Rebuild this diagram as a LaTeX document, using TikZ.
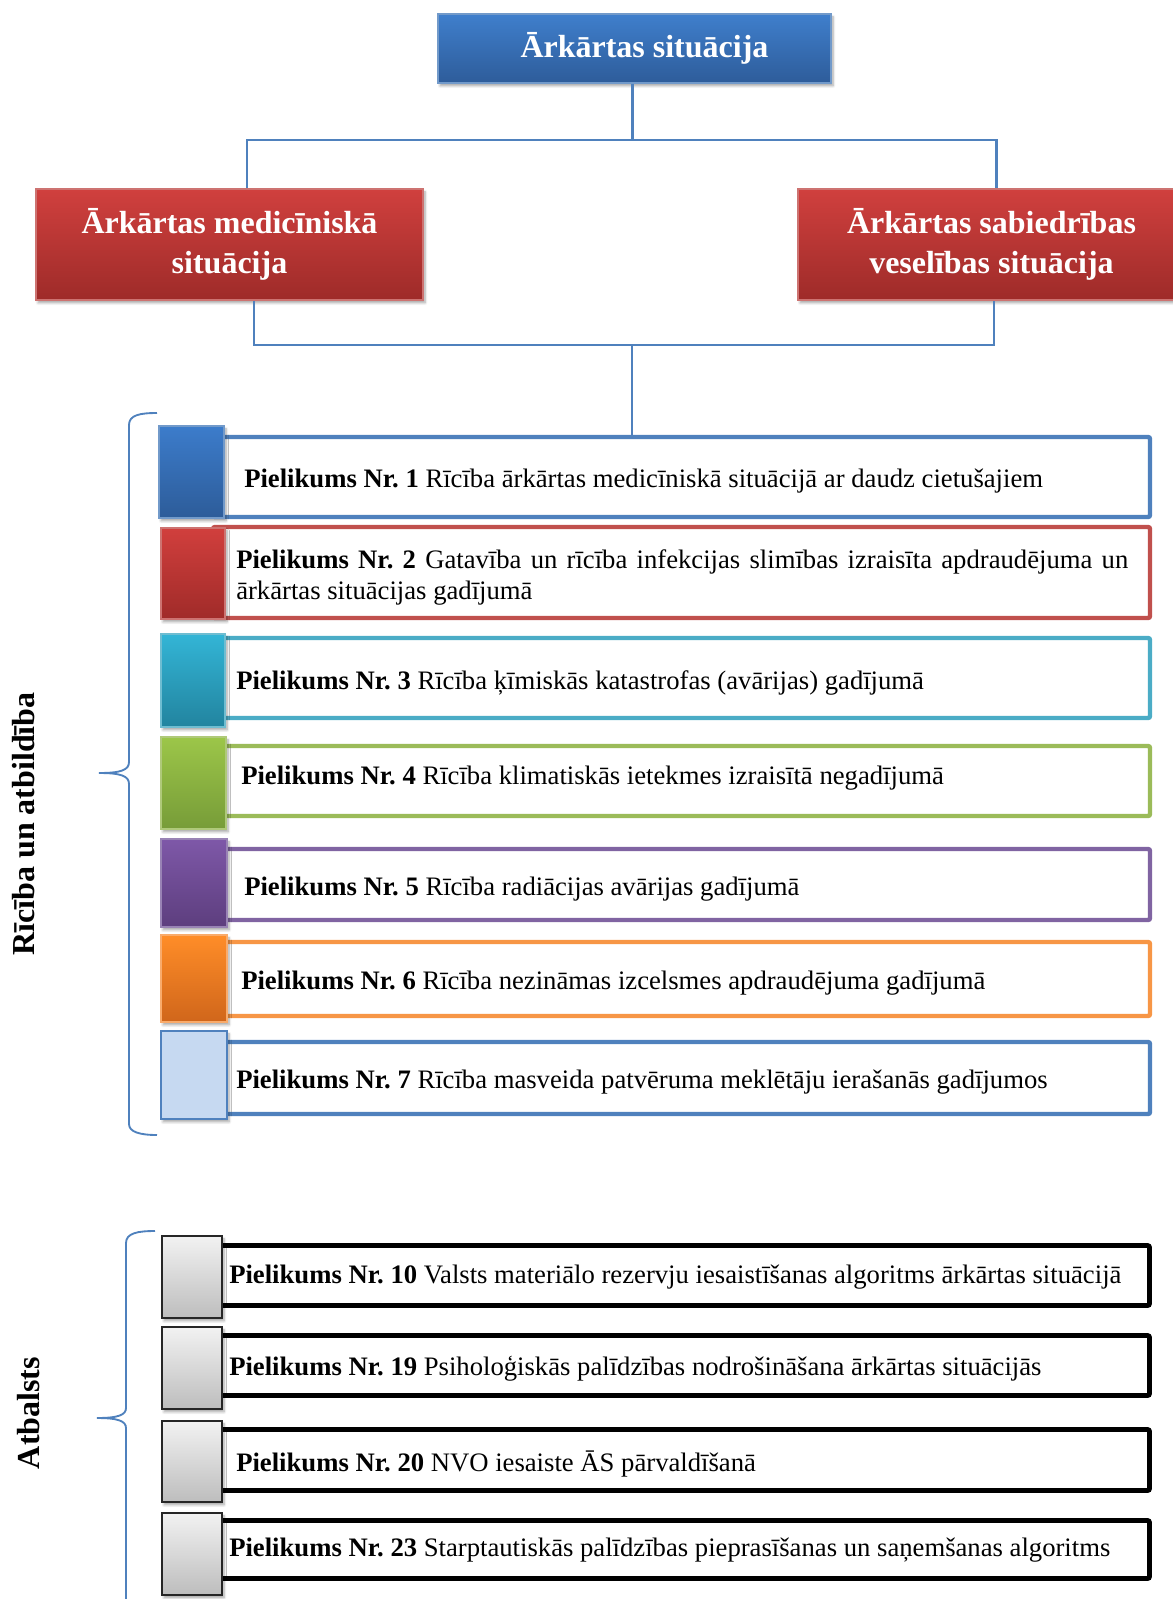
\documentclass[tikz,border=0pt]{standalone}
\usepackage{fontspec}
\setmainfont{Liberation Serif}
\usetikzlibrary{calc,shadows,shadows.blur}
\frenchspacing

\definecolor{lnblue}{HTML}{4F81BD}
\definecolor{hbTop}{HTML}{3F7FCC}
\definecolor{hbBot}{HTML}{2E5C9A}
\definecolor{hrTop}{HTML}{D0403E}
\definecolor{hrBot}{HTML}{9E2B29}
\definecolor{frBlue}{HTML}{4F81BD}
\definecolor{frRed}{HTML}{C0504D}
\definecolor{frTeal}{HTML}{4BACC6}
\definecolor{frGreen}{HTML}{9BBB59}
\definecolor{frPurple}{HTML}{8064A2}
\definecolor{frOrange}{HTML}{F79646}
\definecolor{sqBlueT}{HTML}{3C7CCB}
\definecolor{sqBlueB}{HTML}{2D5C99}
\definecolor{sqRedT}{HTML}{D13F3D}
\definecolor{sqRedB}{HTML}{A02B29}
\definecolor{sqTealT}{HTML}{33B5D6}
\definecolor{sqTealB}{HTML}{22849F}
\definecolor{sqGreenT}{HTML}{9CC649}
\definecolor{sqGreenB}{HTML}{779C38}
\definecolor{sqPurpT}{HTML}{7E58A8}
\definecolor{sqPurpB}{HTML}{5D3E7E}
\definecolor{sqOrT}{HTML}{FF8D28}
\definecolor{sqOrB}{HTML}{D0661B}
\definecolor{sqLight}{HTML}{C6D9F1}
\definecolor{sqGrayT}{HTML}{F2F2F2}
\definecolor{sqGrayB}{HTML}{BDBDBD}

\tikzset{
  softshadow/.style={blur shadow={shadow xshift=1.5pt, shadow yshift=-2.2pt,
      shadow blur steps=6, shadow opacity=35}},
  header/.style={rectangle, softshadow, text=white, align=center,
      font=\fontsize{24}{30}\selectfont\bfseries, inner sep=0pt, line width=0.8pt},
  bluehdr/.style={header, top color=hbTop, bottom color=hbBot, draw=lnblue!80!white},
  redhdr/.style={header, top color=hrTop, bottom color=hrBot, draw=frRed!80!white},
  conn/.style={draw=lnblue, line width=1.6pt},
  brace/.style={draw=lnblue, line width=1.4pt},
  frame/.style={rectangle, draw=#1, line width=3.3pt, rounded corners=1.5pt,
      fill=white, inner sep=0pt, minimum width=702.75pt},
  grayframe/.style={rectangle, draw=black, line width=3.6pt, rounded corners=1.5pt,
      fill=white, inner sep=0pt, minimum width=702.4pt},
  sq/.style n args={3}{rectangle, softshadow, top color=#1, bottom color=#2,
      draw=#3, line width=1pt, inner sep=0pt},
  graysq/.style={rectangle, softshadow, top color=sqGrayT, bottom color=sqGrayB,
      draw=black!85, line width=1.4pt, inner sep=0pt,
      minimum width=45pt, minimum height=61.5pt},
  item/.style={anchor=base west, inner sep=0pt,
      font=\fontsize{20}{23.25}\selectfont},
  sidelabel/.style={rotate=90, inner sep=0pt,
      font=\fontsize{24}{28}\selectfont\bfseries}
}

\begin{document}
\begin{tikzpicture}[x=0.75pt, y=-0.75pt]
\useasboundingbox (0,0) rectangle (1172,1599);

% ---------- headers ----------
\node[bluehdr, minimum width=294.75pt, minimum height=51.75pt] (top) at (634.5,48.5)
  {\hspace*{15pt}Ārkārtas situācija};
\node[redhdr, minimum width=290.25pt, minimum height=83.25pt] (left) at (229.5,244.5)
  {Ārkārtas medicīniskā\\situācija};
\node[redhdr, minimum width=290.25pt, minimum height=83.25pt] (right) at (991.5,244.5)
  {Ārkārtas sabiedrības\\veselības situācija};

% ---------- coloured annex rows ----------
\node[frame=frBlue,   minimum height=60pt]    (f1) at (681.5,477) {};
\node[frame=frRed,    minimum height=68.25pt] (f2) at (681.5,572.5) {};
\node[frame=frTeal,   minimum height=60pt]    (f3) at (681.5,678) {};
\node[frame=frGreen,  minimum height=52.5pt]  (f4) at (681.5,781) {};
\node[frame=frPurple, minimum height=53.25pt] (f5) at (681.5,884.5) {};
\node[frame=frOrange, minimum height=55.5pt]  (f6) at (681.5,979) {};
\node[frame=frBlue,   minimum height=54pt]    (f7) at (681.5,1078) {};

\node[sq={sqBlueT}{sqBlueB}{frBlue!80!white},     minimum width=48.75pt, minimum height=69pt]    (s1) at (191.5,472) {};
\node[sq={sqRedT}{sqRedB}{frRed!80!white},        minimum width=48pt,    minimum height=68.25pt] (s2) at (193,573.5) {};
\node[sq={sqTealT}{sqTealB}{frTeal!80!white},     minimum width=48pt,    minimum height=69.75pt] (s3) at (193,680.5) {};
\node[sq={sqGreenT}{sqGreenB}{frGreen!80!white},  minimum width=48.75pt, minimum height=69pt]    (s4) at (193.5,783) {};
\node[sq={sqPurpT}{sqPurpB}{frPurple!80!white},   minimum width=49.5pt,  minimum height=66pt]    (s5) at (194,883) {};
\node[sq={sqOrT}{sqOrB}{frOrange!80!white},       minimum width=49.5pt,  minimum height=65.25pt] (s6) at (194,978.5) {};
\node[sq={sqLight}{sqLight}{frBlue},              minimum width=49.5pt,  minimum height=66pt]    (s7) at (194,1075) {};

\node[item] (t1) at (244,487) {\textbf{Pielikums Nr. 1} Rīcība ārkārtas medicīniskā situācijā ar daudz cietušajiem};
\node[item, anchor=west, text width=669pt, align=justify] (t2) at (236,577)
  {\textbf{Pielikums Nr. 2} Gatavība un rīcība infekcijas slimības izraisīta apdraudējuma un\linebreak ārkārtas situācijas gadījumā};
\node[item] (t3) at (236,689) {\textbf{Pielikums Nr. 3} Rīcība ķīmiskās katastrofas (avārijas) gadījumā};
\node[item] (t4) at (241,784) {\textbf{Pielikums Nr. 4} Rīcība klimatiskās ietekmes izraisītā negadījumā};
\node[item] (t5) at (244,895) {\textbf{Pielikums Nr. 5} Rīcība radiācijas avārijas gadījumā};
\node[item] (t6) at (241,989) {\textbf{Pielikums Nr. 6} Rīcība nezināmas izcelsmes apdraudējuma gadījumā};
\node[item] (t7) at (236,1088) {\textbf{Pielikums Nr. 7} Rīcība masveida patvēruma meklētāju ierašanās gadījumos};

% ---------- support annex rows ----------
\node[grayframe, minimum height=45pt]    (g10) at (681.25,1275.5) {};
\node[grayframe, minimum height=45pt]    (g19) at (681.25,1365.5) {};
\node[grayframe, minimum height=45.75pt] (g20) at (681.25,1460) {};
\node[grayframe, minimum height=43.5pt]  (g23) at (681.25,1549.5) {};

\node[graysq] (q10) at (192,1277) {};
\node[graysq] (q19) at (192,1368) {};
\node[graysq, minimum height=60.75pt] (q20) at (192,1461.5) {};
\node[graysq] (q23) at (192,1554) {};

\node[item] (u10) at (229,1283) {\textbf{Pielikums Nr. 10} Valsts materiālo rezervju iesaistīšanas algoritms ārkārtas situācijā};
\node[item] (u19) at (229,1375) {\textbf{Pielikums Nr. 19} Psiholoģiskās palīdzības nodrošināšana ārkārtas situācijās};
\node[item] (u20) at (236,1471) {\textbf{Pielikums Nr. 20} NVO iesaiste ĀS pārvaldīšanā};
\node[item] (u23) at (229,1556) {\textbf{Pielikums Nr. 23} Starptautiskās palīdzības pieprasīšanas un saņemšanas algoritms};

% ---------- connectors ----------
\coordinate (jtop) at (632.5,140);
\coordinate (jbot) at (632,345);
\draw[conn] ($(top.south)+(-2,0)$) -- (jtop);
\draw[conn] ($(left.north)+(17.5,0)$) |- (jtop) -| ($(right.north)+(5,0)$);
\draw[conn] ($(left.south)+(24.5,0)$) |- (jbot) -| ($(right.south)+(2.5,0)$);
\draw[conn] (jbot) -- (jbot |- f1.north);

% ---------- braces ----------
\draw[brace] (157,413) .. controls (140,413) and (129,415) .. (129,425)
  -- (129,762) .. controls (129,770) and (121,773) .. (99,773)
  .. controls (121,773) and (129,776) .. (129,784)
  -- (129,1124) .. controls (129,1132) and (140,1135) .. (157,1135);
\draw[brace] (155,1231) .. controls (138,1231) and (126,1233) .. (126,1243)
  -- (126,1408) .. controls (126,1415) and (118,1418) .. (97,1418)
  .. controls (118,1418) and (126,1421) .. (126,1428)
  -- (126,1610);

% ---------- side labels ----------
\node[sidelabel] (lab1) at (24,824) {Rīcība un atbildība};
\node[sidelabel] (lab2) at (29,1413) {Atbalsts};
\end{tikzpicture}
\end{document}
